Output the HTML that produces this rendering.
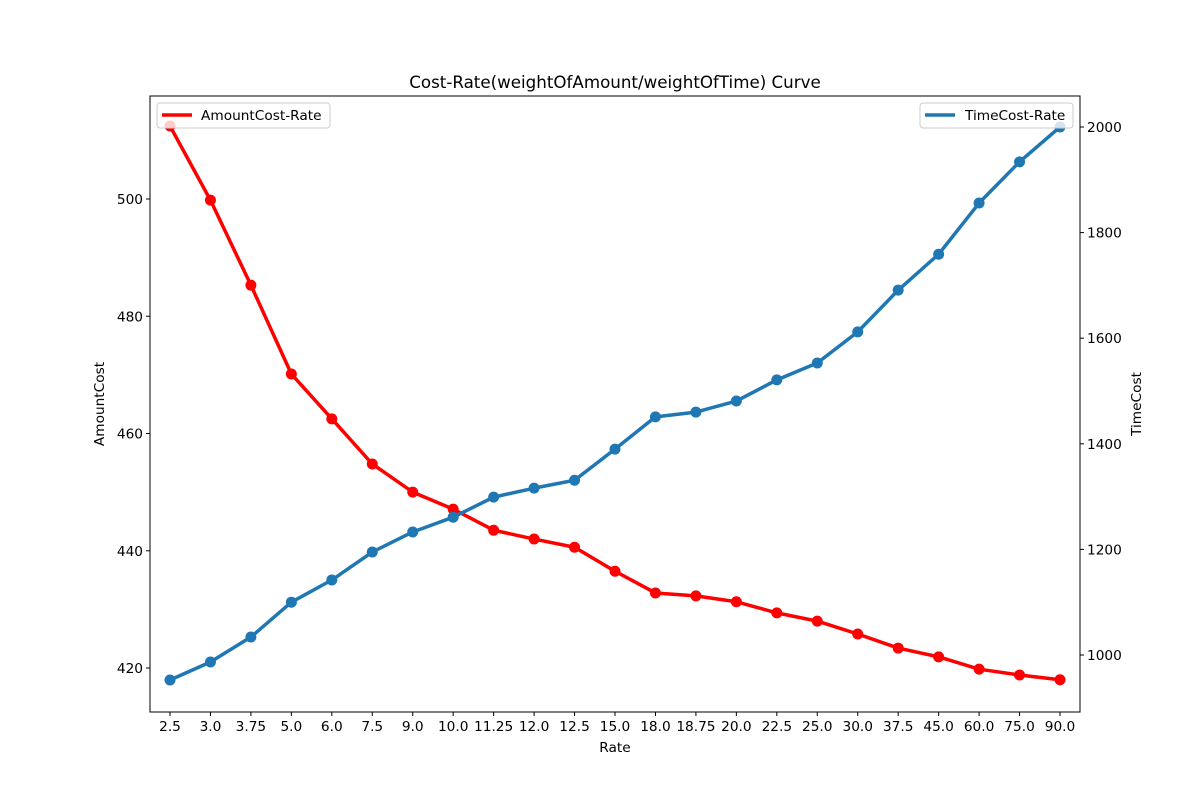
<!DOCTYPE html>
<html><head><meta charset="utf-8"><style>
body{margin:0;background:#fff;}
svg text{font-family:"DejaVu Sans","Liberation Sans",sans-serif;}
</style></head><body>
<svg id="chart" width="1200" height="800" xmlns="http://www.w3.org/2000/svg">
<rect width="1200" height="800" fill="#fff"/>
<g id="g"></g>
</svg>
<script>
const categories=["2.5","3.0","3.75","5.0","6.0","7.5","9.0","10.0","11.25","12.0","12.5","15.0","18.0","18.75","20.0","22.5","25.0","30.0","37.5","45.0","60.0","75.0","90.0"];
const amountCost=[512.45,499.8,485.3,470.15,462.5,454.8,450.0,447.1,443.5,442.0,440.6,436.5,432.8,432.3,431.3,429.4,428.0,425.8,423.4,421.9,419.8,418.8,418.0];
const timeCost=[952.6,986.7,1034,1100,1142,1195,1233,1261,1299,1316,1331,1390,1451,1460,1481,1521,1553,1612,1691,1759,1856,1934,2000];
const leftTicks=[420,440,460,480,500];
const rightTicks=[1000,1200,1400,1600,1800,2000];

const L=150,R=1080,T=96,B=712;
const FS='13.7';
const xs=i=>170+i*(1060-170)/(categories.length-1);
const yl=v=>668-(v-420)*5.8625;
const yr=v=>655-(v-1000)*0.528;
const NS="http://www.w3.org/2000/svg";
const g=document.getElementById('g');
function mk(tag,attrs,txt){const e=document.createElementNS(NS,tag);for(const k in attrs)e.setAttribute(k,attrs[k]);if(txt!==undefined)e.textContent=txt;g.appendChild(e);return e;}

let e=mk('text',{x:615,y:88,'text-anchor':'middle','font-size':'16.7'},'Cost-Rate(weightOfAmount/weightOfTime) Curve');



categories.forEach((c,i)=>{
  const x=xs(i);
  let t=mk('line',{x1:x,x2:x,y1:B,y2:B+4,stroke:'#000','stroke-width':1});
  
  
  let l=mk('text',{x:x,y:B+19,'text-anchor':'middle','font-size':FS},c);
  
  
});
leftTicks.forEach(v=>{
  const y=yl(v);
  let t=mk('line',{x1:L-4,x2:L,y1:y,y2:y,stroke:'#000'});
  
  
  let l=mk('text',{x:L-7,y:y+5,'text-anchor':'end','font-size':FS},v);
  
  
});
rightTicks.forEach(v=>{
  const y=yr(v);
  let t=mk('line',{x1:R,x2:R+4,y1:y,y2:y,stroke:'#000'});
  
  
  let l=mk('text',{x:R+7,y:y+5,'text-anchor':'start','font-size':FS},v);
  
  
});
e=mk('text',{x:615,y:752,'text-anchor':'middle','font-size':FS},'Rate');


e=mk('text',{x:104,y:404,'text-anchor':'middle','font-size':FS,transform:'rotate(-90 104 404)'},'AmountCost');


e=mk('text',{x:1141,y:404,'text-anchor':'middle','font-size':FS,transform:'rotate(-90 1141 404)'},'TimeCost');



function series(vals,yf,color,name){
  let p=mk('polyline',{points:vals.map((v,i)=>xs(i)+','+yf(v)).join(' '),fill:'none',stroke:color,'stroke-width':3.5,'stroke-linejoin':'round'});
  
  
  vals.forEach((v,i)=>{
    let c=mk('circle',{cx:xs(i),cy:yf(v),r:5.5,fill:color});
    
    
  });
}
series(amountCost,yl,'#ff0000','amount-cost');
series(timeCost,yr,'#1f77b4','time-cost');

e=mk('rect',{x:L,y:T,width:R-L,height:B-T,fill:'none',stroke:'#000','stroke-width':1});



e=mk('rect',{x:157,y:103,width:173,height:25,rx:3,fill:'#fff','fill-opacity':0.8,stroke:'#ccc'});


mk('line',{x1:162,x2:192,y1:115,y2:115,stroke:'#ff0000','stroke-width':3.5});
e=mk('text',{x:201,y:120,'font-size':FS},'AmountCost-Rate');


e=mk('rect',{x:920,y:103,width:153,height:25,rx:3,fill:'#fff','fill-opacity':0.8,stroke:'#ccc'});


mk('line',{x1:925,x2:955,y1:115,y2:115,stroke:'#1f77b4','stroke-width':3.5});
e=mk('text',{x:965,y:120,'font-size':FS},'TimeCost-Rate');


</script>
</body></html>
